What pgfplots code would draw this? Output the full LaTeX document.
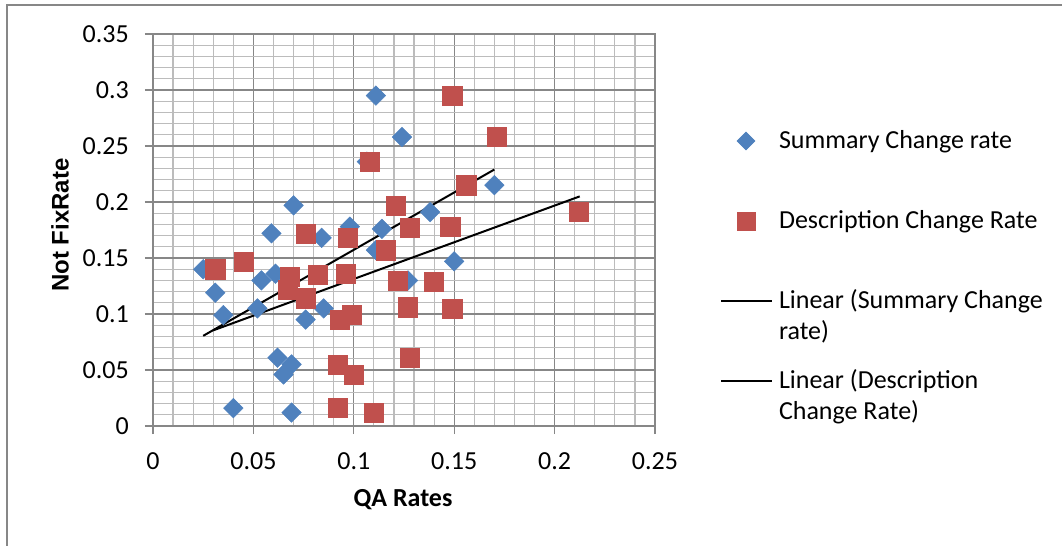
\documentclass[border=0pt]{standalone}
\usepackage{fontspec}
\setmainfont{Carlito}
\newfontfamily\arialfont{Liberation Sans}
\usepackage{pgfplots}
\pgfplotsset{compat=1.18}
\definecolor{sblue}{HTML}{4F81BD}
\definecolor{dred}{HTML}{C0504D}
\definecolor{majgrid}{HTML}{878787}
\definecolor{mingrid}{HTML}{BCBCBC}
\pgfplotsset{
  legblue/.style={legend image code/.code={\draw[##1, mark size=6.4bp] plot coordinates {(25bp,7bp)};}},
  legred/.style={legend image code/.code={\draw[##1, mark size=8.8bp] plot coordinates {(25bp,7bp)};}},
  legline/.style={legend image code/.code={\draw[##1] (0bp,7.5bp) -- (51bp,7.5bp);}},
}
\begin{document}
\fontsize{26bp}{31bp}\selectfont
\begin{tikzpicture}[font=\fontsize{26bp}{31bp}\selectfont]
\useasboundingbox (0,0) rectangle (1062bp,546bp);
\draw[majgrid, line width=1.2bp] (7bp,-5bp) -- (7bp,541bp) -- (1070bp,541bp);
\begin{axis}[
  at={(153bp,120bp)}, anchor=south west,
  scale only axis, width=502bp, height=392bp,
  xmin=0, xmax=0.25, ymin=0, ymax=0.35,
  xtick={0,0.05,0.1,0.15,0.2,0.25},
  xticklabels={0,0.05,0.1,0.15,0.2,0.25},
  ytick={0,0.05,0.1,0.15,0.2,0.25,0.3,0.35},
  yticklabels={0,0.05,0.1,0.15,0.2,0.25,0.3,0.35},
  minor x tick num=4, minor y tick num=4,
  grid=both,
  major grid style={majgrid, line width=1.3bp},
  minor grid style={mingrid, line width=1.2bp},
  axis line style={majgrid, line width=1.3bp},
  tick align=outside, major tick length=8bp, minor tick length=0pt,
  tick style={majgrid, line width=1.3bp},
  tick pos=left,
  xticklabel style={inner sep=0pt, anchor=north, yshift=-18bp},
  yticklabel style={inner sep=0pt, anchor=east, xshift=-16bp},
  xlabel={\textbf{QA Rates}},
  ylabel={\arialfont\fontsize{24bp}{28bp}\selectfont\bfseries Not FixRate},
  xlabel style={at={(axis description cs:0.498,-0.1888)}, anchor=center},
  ylabel style={at={(axis description cs:-0.1853,0.5128)}, anchor=center},
  legend style={at={(axis description cs:1.1295,0.7602)}, anchor=north west,
    draw=none, fill=none, inner sep=0pt, outer sep=0pt,
    row sep=54bp, column sep=6bp,
    nodes={inner sep=0pt, text height=20bp, text depth=6bp},
    cells={anchor=base west}},
]
\addplot[only marks, mark=square*, mark size=6.9bp,
  mark options={rotate=45, fill=sblue, draw=sblue, line width=0.5bp}, legblue]
coordinates {
(0.111,0.295) (0.124,0.258) (0.170,0.215) (0.138,0.191) (0.070,0.197)
(0.059,0.172) (0.098,0.178) (0.084,0.168) (0.114,0.176) (0.111,0.157)
(0.025,0.140) (0.031,0.119) (0.035,0.099) (0.052,0.105) (0.054,0.130)
(0.061,0.136) (0.076,0.095) (0.085,0.105) (0.062,0.061) (0.069,0.055)
(0.065,0.046) (0.040,0.016) (0.069,0.012) (0.127,0.130) (0.150,0.147)
(0.1065,0.236)
};
\addlegendentry{Summary Change rate}
\addplot[only marks, mark=square*, mark size=9.6bp,
  mark options={fill=dred, draw=dred, line width=0.5bp}, legred]
coordinates {
(0.149,0.295) (0.171,0.258) (0.108,0.236) (0.156,0.215) (0.212,0.191)
(0.121,0.197) (0.128,0.177) (0.148,0.178) (0.076,0.172) (0.097,0.168)
(0.116,0.157) (0.031,0.140) (0.045,0.147) (0.068,0.133) (0.067,0.122)
(0.076,0.114) (0.082,0.135) (0.096,0.136) (0.093,0.095) (0.099,0.099)
(0.122,0.130) (0.140,0.129) (0.127,0.106) (0.149,0.105) (0.128,0.061)
(0.092,0.055) (0.100,0.046) (0.092,0.016) (0.110,0.012)
};
\addlegendentry{Description Change Rate}
\addplot[black, line width=2bp, no marks, legline]
coordinates {(0.025,0.0805) (0.170,0.229)};
\addlegendentry{\begin{tabular}[t]{@{}l@{}}Linear (Summary Change\\rate)\end{tabular}}
\addplot[black, line width=2bp, no marks, legline]
coordinates {(0.030,0.0854) (0.2125,0.205)};
\addlegendentry{\begin{tabular}[t]{@{}l@{}}Linear (Description\\Change Rate)\end{tabular}}
\end{axis}
\end{tikzpicture}
\end{document}
